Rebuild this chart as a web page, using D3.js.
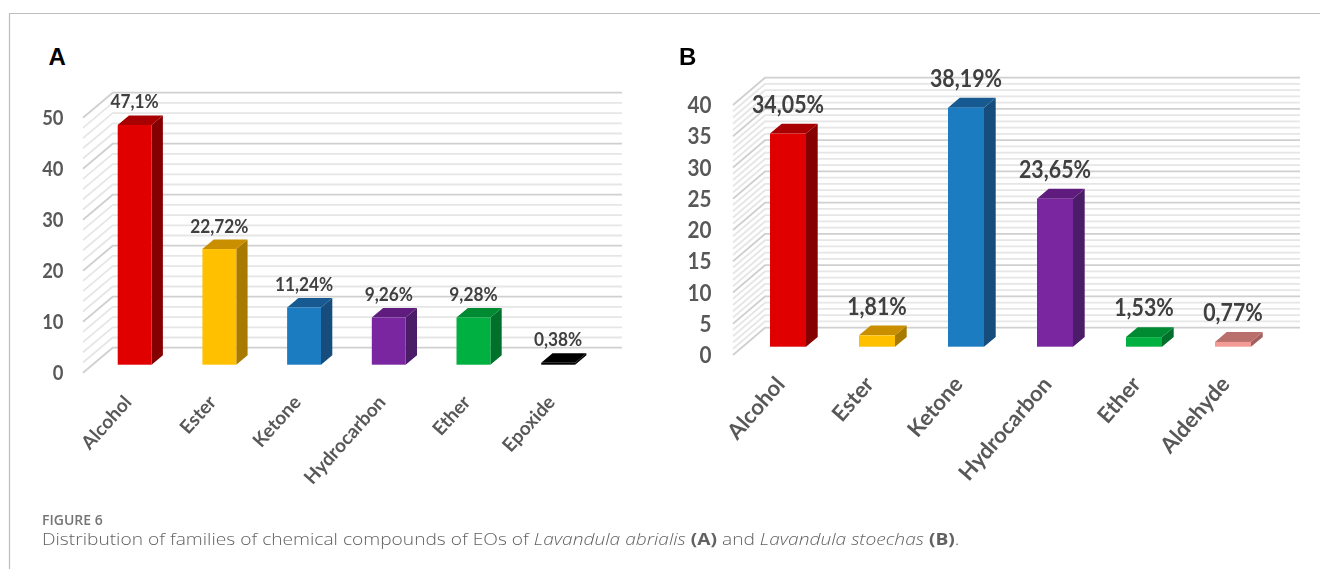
<!DOCTYPE html>
<html><head><meta charset="utf-8">
<script src="https://cdn.jsdelivr.net/npm/d3@7"></script>
<style>html,body{margin:0;padding:0;background:#fff;overflow:hidden}svg{display:block}</style>
</head><body><svg id="c" width="1320" height="569"></svg>
<script>
const categoriesA = ["Alcohol","Ester","Ketone","Hydrocarbon","Ether","Epoxide"];
const valuesA = [47.1,22.72,11.24,9.26,9.28,0.38];
const labelsA = ["47,1%","22,72%","11,24%","9,26%","9,28%","0,38%"];
const ticksA = [0,10,20,30,40,50];
const categoriesB = ["Alcohol","Ester","Ketone","Hydrocarbon","Ether","Aldehyde"];
const valuesB = [34.05,1.81,38.19,23.65,1.53,0.77];
const labelsB = ["34,05%","1,81%","38,19%","23,65%","1,53%","0,77%"];
const ticksB = [0,5,10,15,20,25,30,35,40];
const coloursA = ["red","yellow","blue","purple","green","black"];
const coloursB = ["red","yellow","blue","purple","green","pink"];
const shades = {
  red:{f:"#e00000",t:"#a80000",s:"#850000"},
  yellow:{f:"#ffc000",t:"#c98f00",s:"#a87a00"},
  blue:{f:"#1c7cc2",t:"#175a91",s:"#134d7c"},
  purple:{f:"#7a28a0",t:"#5e1f7e",s:"#4b1a68"},
  green:{f:"#00b040",t:"#008a33",s:"#006f2a"},
  black:{f:"#000",t:"#000",s:"#000"},
  pink:{f:"#f29a96",t:"#b96f6c",s:"#a35f5c"}
};
const svg = d3.select("#c");
const defs = svg.append("defs");
const soft = (id,sd)=>defs.append("filter").attr("id",id).attr("x","-5%").attr("y","-5%").attr("width","110%").attr("height","110%")
  .append("feGaussianBlur").attr("stdDeviation",sd);
soft("soft",0.5);
soft("softer",0.3);
const FONT = "Lato, 'Open Sans', sans-serif";

function panel(o){
  const g = svg.append("g").attr("filter","url(#soft)");
  const top = o.ticks[o.ticks.length-1];
  const yBack = d3.scaleLinear().domain([0,top]).range(o.backRange);
  const yFront = d3.scaleLinear().domain([0,top]).range(o.frontRange);
  const yAxis = d3.scaleLinear().domain([0,top]).range(o.axisRange);
  const x = d3.scaleBand().domain(o.cats).range(o.xRange).paddingInner(o.pad).paddingOuter(o.pad/2);
  const minor = d3.range(0, top+1e-6, o.minorStep);
  const isMajor = v => o.ticks.includes(v);
  const grid = g.append("g");
  minor.filter(v=>!isMajor(v)).concat(o.ticks).forEach(v=>{
    const m = isMajor(v);
    grid.append("path")
      .attr("d",`M${o.wallX0},${yAxis(v)}L${o.wallX1},${yBack(v)}L${o.wallX2},${yBack(v)}`)
      .attr("fill","none").attr("stroke",m?"#d0d0d0":"#e6e6e6").attr("stroke-width",1.8);
  });
  const ax = d3.axisLeft(yAxis).tickValues(o.ticks).tickSize(0).tickPadding(0);
  const axG = g.append("g").attr("transform",`translate(${o.labelRight},0)`).call(ax);
  axG.select(".domain").remove();
  axG.selectAll("text").attr("font-family",FONT).attr("font-weight",700)
    .attr("font-size",o.tickSize).attr("fill","#595959")
    .attr("transform",`scale(${o.tickScale},1)`);
  const w = x.bandwidth();
  o.cats.forEach((c,i)=>{
    const x0=x(c), x1=x0+w, yb=yFront(0), yt=yFront(o.vals[i]), dx=o.dx, dy=o.dy;
    const col=shades[o.cols[i]];
    g.append("path").attr("d",`M${x1},${yt}L${x1+dx},${yt-dy}L${x1+dx},${yb-dy}L${x1},${yb}Z`).attr("fill",col.s);
    g.append("path").attr("d",`M${x0},${yt}L${x0+dx},${yt-dy}L${x1+dx},${yt-dy}L${x1},${yt}Z`).attr("fill",col.t);
    g.append("rect").attr("x",x0).attr("y",yt).attr("width",w).attr("height",yb-yt).attr("fill",col.f);
    g.append("text").text(o.labels[i])
      .attr("transform",`translate(${x0+w/2},${yt-dy-o.labelGap}) scale(${o.labelScale},1)`)
      .attr("text-anchor","middle").attr("font-family",FONT).attr("font-weight",700)
      .attr("font-size",o.labelSize).attr("fill","#404040");
    g.append("text").text(c)
      .attr("transform",`translate(${x0+w/2+o.catDx},${o.catY}) rotate(${o.catAngle})`)
      .attr("text-anchor","end").attr("font-family",FONT).attr("font-weight",700)
      .attr("font-size",o.catSize).attr("fill","#595959");
  });
  svg.append("text").text(o.letter).attr("x",o.letterX).attr("y",65)
    .attr("font-family","'Liberation Sans',Arial,sans-serif").attr("font-weight",700)
    .attr("font-size",24).attr("fill","#000");
}
panel({letter:"A",letterX:48.5,cats:categoriesA,vals:valuesA,labels:labelsA,ticks:ticksA,cols:coloursA,
  backRange:[347.7,92.7],frontRange:[364.7,110.2],axisRange:[372.7,117.7],
  xRange:[92.3,600.5],pad:0.6,minorStep:2,wallX0:83,wallX1:112.7,wallX2:622,labelRight:63.5,
  dx:11.3,dy:9.5,labelGap:7,tickSize:20,tickScale:.92,labelSize:18,labelScale:.96,catSize:19,catDx:-2,catY:403,catAngle:-48});
panel({letter:"B",letterX:679,cats:categoriesB,vals:valuesB,labels:labelsB,ticks:ticksB,cols:coloursB,
  backRange:[327.7,77.7],frontRange:[346.7,96.3],axisRange:[355,105],
  xRange:[743.5,1277.5],pad:0.5955,minorStep:1,wallX0:733,wallX1:765,wallX2:1300,labelRight:711.5,
  dx:11.7,dy:9.8,labelGap:11,tickSize:23.5,tickScale:.88,labelSize:24,labelScale:.89,catSize:22,catDx:-2,catY:385,catAngle:-49});
// frame
svg.append("path").attr("d","M9.5,569V13.5H1320").attr("fill","none").attr("stroke","#bdbdbd").attr("stroke-width",1.2);
// caption
const capFont = "'Open Sans', Lato, sans-serif";
svg.append("text").text("FIGURE 6").attr("x",42).attr("y",525).attr("font-family",capFont)
  .attr("font-size",14).attr("font-weight",600).attr("fill","#757575").attr("filter","url(#softer)");
const cap = svg.append("text").attr("font-family",capFont).attr("font-size",16.5).attr("fill","#626262").attr("filter","url(#softer)");
[["Distribution of families of chemical compounds of EOs of ",{}],["Lavandula abrialis",{i:1}],[" ",{}],["(A)",{b:1}],[" and ",{}],["Lavandula stoechas",{i:1}],[" ",{}],["(B)",{b:1}],[".",{}]]
 .forEach(([t,s])=>cap.append("tspan").text(t).attr("font-style",s.i?"italic":"normal").attr("font-weight",s.b?700:300));
const len = cap.node().getComputedTextLength();
cap.attr("transform",`translate(42,545) scale(${918/len},1)`);
</script></body></html>
